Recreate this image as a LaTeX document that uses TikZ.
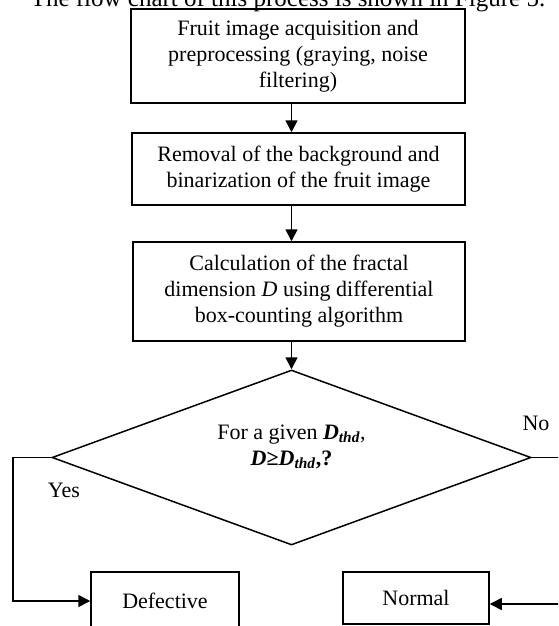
\documentclass[tikz,border=0pt]{standalone}
\usepackage{fontspec}
\setmainfont{Liberation Serif}
\usetikzlibrary{arrows.meta,shapes.geometric}
\begin{document}
\begin{tikzpicture}[x=1pt,y=-1pt,
  line width=1.5pt,
  every node/.style={font=\fontsize{22}{26}\selectfont},
  procbox/.style={draw, rectangle, inner sep=0pt, align=center},
  decide/.style={draw, diamond, inner sep=0pt, minimum width=479pt, minimum height=175pt},
  flow/.style={-{Triangle[length=12pt,width=12pt]}},
  lbl/.style={inner sep=0pt}
]
\useasboundingbox (0,0) rectangle (558,626);
\clip (0,0) rectangle (558,626);

\node[lbl, anchor=base east, font=\fontsize{25}{30}\selectfont] (intro) at (546,7) {The flow chart of this process is shown in Figure 5.};

\node[procbox, minimum width=334pt, minimum height=94pt] (b1) at (298,56)
  {Fruit image acquisition and\\preprocessing (graying, noise\\filtering)};
\node[procbox, minimum width=333pt, minimum height=72pt] (b2) at (298.5,169)
  {Removal of the background and\\binarization of the fruit image};
\node[procbox, minimum width=332pt, minimum height=99pt] (b3) at (299,291.5)
  {Calculation of the fractal\\dimension \textit{D} using differential\\box-counting algorithm};
\node[decide] (d) at (291.5,457.5) {};
\node[lbl, align=center] (dq) at (291.5,447)
  {For a given \textbf{\textit{D}\textsubscript{\textit{thd}}},\\\textbf{\textit{D}≥\textit{D}\textsubscript{\textit{thd}},?}};

\node[procbox, minimum width=148pt, minimum height=58pt] (def) at (165,601) {Defective};
\node[procbox, minimum width=146pt, minimum height=52pt] (nor) at (416,598) {Normal};

\node[lbl] (yes) at (64,490) {Yes};
\node[lbl] (no) at (536,423) {No};

\coordinate (lc) at (13,457.5);
\coordinate (rc) at (562,457.5);
\coordinate (ra) at (562,604);

\draw[flow] (b1.south -| d.north) -- (b2.north -| d.north);
\draw[flow] (b2.south -| d.north) -- (b3.north -| d.north);
\draw[flow] (b3.south -| d.north) -- (d.north);
\draw[flow] (d.west) -- (lc) |- (def.west);
\draw (d.east) -- (rc);
\draw[flow] (ra) -- (nor.east |- ra);
\end{tikzpicture}
\end{document}
